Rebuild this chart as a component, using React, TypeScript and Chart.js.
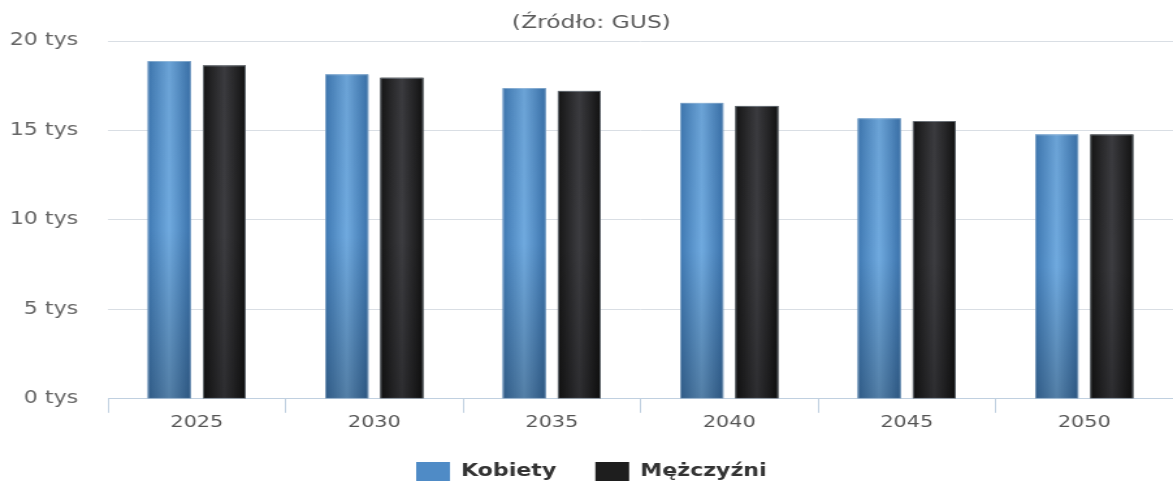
import React, { useEffect, useRef } from "react";
import { Chart, registerables } from "chart.js";

Chart.register(...registerables);

const categories = ["2025", "2030", "2035", "2040", "2045", "2050"];
const kobiety = [18870, 18130, 17360, 16540, 15670, 14770];
const mezczyzni = [18630, 17940, 17210, 16370, 15520, 14770];
const yTicks = [0, 5000, 10000, 15000, 20000];
const titleText = "(Źródło: GUS)";
const seriesNames = ["Kobiety", "Mężczyźni"];

const CSS_W = 1173;
const CSS_H = 492;
const INT_W = 902;
const FONT = "'DejaVu Sans', Verdana, sans-serif";

const gradientPlugin = {
  id: "barGradient",
  afterDatasetsDraw(chart: any) {
    const ctx = chart.ctx;
    const palettes = [
      { edgeL: "#3f79b3", mid: "#70aadf", edgeR: "#3a72ab" },
      { edgeL: "#151515", mid: "#3d3d41", edgeR: "#121212" },
    ];
    chart.data.datasets.forEach((_: any, di: number) => {
      const meta = chart.getDatasetMeta(di);
      const p = palettes[di];
      meta.data.forEach((el: any) => {
        const { x, y, base, width } = el.getProps(["x", "y", "base", "width"], true);
        const left = x - width / 2;
        const h = base - y;
        const g = ctx.createLinearGradient(left, 0, left + width, 0);
        g.addColorStop(0, p.edgeL);
        g.addColorStop(0.5, p.mid);
        g.addColorStop(1, p.edgeR);
        ctx.save();
        ctx.fillStyle = g;
        ctx.fillRect(left, y, width, h);
        const v = ctx.createLinearGradient(0, y, 0, base);
        v.addColorStop(0, "rgba(0,0,0,0.04)");
        v.addColorStop(0.5, "rgba(0,0,0,0)");
        v.addColorStop(1, "rgba(0,0,0,0.25)");
        ctx.fillStyle = v;
        ctx.fillRect(left, y, width, h);
        ctx.strokeStyle = "rgba(200,215,230,0.5)";
        ctx.lineWidth = 0.8;
        ctx.strokeRect(left + 0.4, y + 0.4, width - 0.8, h - 0.4);
        ctx.restore();
      });
    });
  },
};

export default function App() {
  const ref = useRef<HTMLCanvasElement | null>(null);

  useEffect(() => {
    document.body.style.margin = "0";
    document.documentElement.style.overflow = "hidden";
    document.body.style.overflow = "hidden";
    if (!ref.current) return;
    const chart = new Chart(ref.current, {
      type: "bar",
      data: {
        labels: categories,
        datasets: [
          {
            label: seriesNames[0],
            data: kobiety,
            backgroundColor: "#4f8bc6",
            borderWidth: 0,
            categoryPercentage: 0.62,
            barPercentage: 0.78,
          },
          {
            label: seriesNames[1],
            data: mezczyzni,
            backgroundColor: "#1e1e1e",
            borderWidth: 0,
            categoryPercentage: 0.62,
            barPercentage: 0.78,
          },
        ],
      },
      options: {
        responsive: false,
        animation: false,
        devicePixelRatio: 1,
        layout: { padding: { left: 7.5, right: 0, top: 0, bottom: 0 } },
        plugins: {
          title: {
            display: true,
            text: titleText,
            color: "#5a5a5a",
            font: { family: FONT, size: 18, weight: "normal" },
            padding: { top: 13, bottom: 6.4 },
          },
          legend: {
            display: true,
            position: "bottom",
            labels: {
              color: "#333333",
              font: { family: FONT, size: 17, weight: "bold" },
              boxWidth: 26,
              boxHeight: 20,
              padding: 30,
            },
          },
          tooltip: { enabled: false },
        },
        scales: {
          x: {
            offset: true,
            grid: {
              display: true,
              drawOnChartArea: false,
              offset: true,
              tickLength: 14,
              color: "#c0d0e0",
              lineWidth: 1,
            },
            border: { display: true, color: "#c0d0e0", width: 1 },
            ticks: {
              color: "#555555",
              padding: 0,
              font: { family: FONT, size: 16 },
            },
          },
          y: {
            min: 0,
            max: 20000,
            afterBuildTicks: (scale: any) => {
              scale.ticks = yTicks.map((v) => ({ value: v }));
            },
            afterFit: (scale: any) => {
              scale.width = 75.6;
            },
            grid: { color: "#d9dee4", lineWidth: 1, drawTicks: false },
            border: { display: false },
            ticks: {
              color: "#666666",
              padding: 23,
              font: { family: FONT, size: 17 },
              callback: (v: any) => `${Number(v) / 1000} tys`,
            },
          },
        },
      },
      plugins: [gradientPlugin],
    });
    return () => chart.destroy();
  }, []);

  return (
    <div style={{ width: CSS_W, height: 481, overflow: "hidden" }}>
      <canvas
        ref={ref}
        width={INT_W}
        height={CSS_H}
        style={{ width: `${CSS_W}px`, height: `${CSS_H}px`, display: "block" }}
      />
    </div>
  );
}
